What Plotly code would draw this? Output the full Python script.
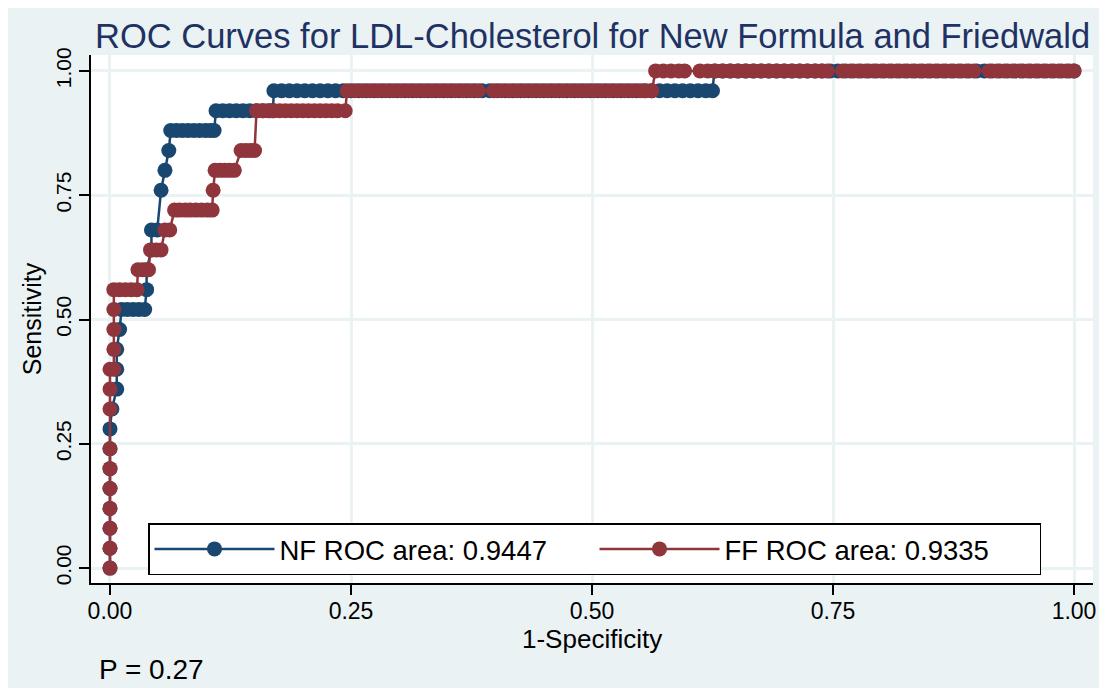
import plotly.graph_objects as go

# ---------------- data ----------------
# NF curve: sensitivity levels and the 1-specificity values observed at each level
nf_sens = [0.00, 0.04, 0.08, 0.12, 0.16, 0.20, 0.24, 0.28, 0.32, 0.36, 0.40, 0.44, 0.48,
           0.52, 0.56, 0.60, 0.64, 0.68, 0.76, 0.80, 0.84, 0.88, 0.92, 0.96, 1.00]
nf_fpr = [
    [0.000], [0.000], [0.000], [0.000], [0.000], [0.000], [0.000], [0.000],
    [0.002], [0.007], [0.007], [0.007], [0.010],
    [0.012, 0.018, 0.024, 0.030, 0.036],
    [0.038], [0.038], [0.043], [0.043, 0.049],
    [0.053], [0.057], [0.061],
    [0.063, 0.069, 0.075, 0.081, 0.087, 0.093, 0.099, 0.104, 0.108],
    [0.110, 0.117, 0.124, 0.131, 0.138, 0.145, 0.152, 0.159, 0.166, 0.169],
    [0.170, 0.178, 0.186, 0.194, 0.202, 0.210, 0.218, 0.226, 0.234, 0.242, 0.250, 0.258,
     0.266, 0.274, 0.282, 0.290, 0.298, 0.306, 0.314, 0.322, 0.330, 0.338, 0.346, 0.354,
     0.362, 0.370, 0.378, 0.386, 0.394, 0.402, 0.410, 0.418, 0.426, 0.434, 0.442, 0.450,
     0.458, 0.466, 0.474, 0.482, 0.490, 0.498, 0.506, 0.514, 0.522, 0.530, 0.538, 0.546,
     0.554, 0.562, 0.570, 0.578, 0.586, 0.594, 0.602, 0.610, 0.618, 0.625],
    [0.627, 0.635, 0.643, 0.651, 0.659, 0.667, 0.675, 0.683, 0.691, 0.699, 0.707, 0.715,
     0.723, 0.731, 0.739, 0.747, 0.755, 0.763, 0.771, 0.779, 0.787, 0.795, 0.803, 0.811,
     0.819, 0.827, 0.835, 0.843, 0.851, 0.859, 0.867, 0.875, 0.883, 0.891, 0.899, 0.907,
     0.915, 0.923, 0.931, 0.939, 0.947, 0.955, 0.963, 0.971, 0.979, 0.987, 0.995, 1.000],
]

# FF curve
ff_sens = [0.00, 0.04, 0.08, 0.12, 0.16, 0.20, 0.24, 0.32, 0.36, 0.40, 0.44, 0.48, 0.52,
           0.56, 0.60, 0.64, 0.68, 0.72, 0.76, 0.80, 0.84, 0.92, 0.96, 1.00]
ff_fpr = [
    [0.000], [0.000], [0.000], [0.000], [0.000], [0.000], [0.000], [0.000], [0.000],
    [0.000, 0.004], [0.004], [0.004], [0.004],
    [0.004, 0.010, 0.016, 0.022, 0.028],
    [0.029, 0.034, 0.040],
    [0.042, 0.048, 0.053],
    [0.057, 0.062],
    [0.067, 0.072, 0.078, 0.083, 0.089, 0.095, 0.101, 0.106],
    [0.107],
    [0.109, 0.114, 0.119, 0.124, 0.129],
    [0.136, 0.141, 0.146, 0.150],
    [0.152, 0.158, 0.164, 0.170, 0.176, 0.182, 0.188, 0.194, 0.200, 0.206, 0.212, 0.218,
     0.224, 0.230, 0.236, 0.244],
    [0.246, 0.254, 0.262, 0.270, 0.278, 0.286, 0.294, 0.302, 0.310, 0.318, 0.326, 0.334,
     0.342, 0.350, 0.358, 0.366, 0.374, 0.382, 0.398, 0.406, 0.414, 0.422, 0.430, 0.438,
     0.446, 0.454, 0.462, 0.470, 0.478, 0.486, 0.494, 0.502, 0.510, 0.518, 0.526, 0.534,
     0.542, 0.550, 0.556, 0.562],
    [0.566, 0.574, 0.582, 0.590, 0.596, 0.612, 0.620, 0.628, 0.636, 0.644, 0.652, 0.660,
     0.668, 0.676, 0.684, 0.692, 0.700, 0.708, 0.716, 0.724, 0.732, 0.738, 0.744, 0.760,
     0.768, 0.776, 0.784, 0.792, 0.800, 0.808, 0.816, 0.824, 0.832, 0.840, 0.848, 0.856,
     0.864, 0.872, 0.880, 0.888, 0.896, 0.912, 0.920, 0.928, 0.936, 0.944, 0.952, 0.960,
     0.968, 0.976, 0.984, 0.992, 1.000],
]

nf_label = "NF ROC area: 0.9447"
ff_label = "FF ROC area: 0.9335"
title_text = "ROC Curves for LDL-Cholesterol for New Formula and Friedwald"
x_title = "1-Specificity"
y_title = "Sensitivity"
note_text = "P = 0.27"
tick_vals = [0, 0.25, 0.5, 0.75, 1]
tick_text = ["0.00", "0.25", "0.50", "0.75", "1.00"]


def flatten(levels, runs):
    xs, ys = [], []
    for s, run in zip(levels, runs):
        for f in run:
            xs.append(f)
            ys.append(s)
    return xs, ys


nf_x, nf_y = flatten(nf_sens, nf_fpr)
ff_x, ff_y = flatten(ff_sens, ff_fpr)

NAVY = "#1a476f"
MAROON = "#90353b"
BG = "#eaf2f3"
FONT = "Liberation Sans, Arial, sans-serif"

# the page body adds an 8 px offset; target window coordinates are shifted by it
OFF = 8
PL, PR, PT, PB = 91 - OFF, 1093 - OFF, 55 - OFF, 583 - OFF   # plot area in figure px
W, H = 1107, 688
plot_w = PR - PL
plot_h = PB - PT


def py_paper(win_y):
    """window pixel row -> paper y coordinate"""
    return (583 - win_y) / plot_h


def px_paper(win_x):
    return (win_x - 91) / plot_w


fig = go.Figure()
fig.add_trace(go.Scatter(x=nf_x, y=nf_y, mode="lines+markers", name=nf_label,
                         line=dict(color=NAVY, width=2.5),
                         marker=dict(color=NAVY, size=15, symbol="circle")))
fig.add_trace(go.Scatter(x=ff_x, y=ff_y, mode="lines+markers", name=ff_label,
                         line=dict(color=MAROON, width=2.5),
                         marker=dict(color=MAROON, size=15, symbol="circle")))

axis_common = dict(
    tickvals=tick_vals, ticktext=tick_text,
    showline=True, linecolor="black", linewidth=1.5,
    ticks="outside", ticklen=10, tickwidth=1.5, tickcolor="black",
    showgrid=True, gridcolor=BG, gridwidth=3,
    zeroline=False, mirror=False,
)

fig.update_layout(
    width=W, height=H,
    paper_bgcolor=BG, plot_bgcolor="white",
    margin=dict(l=PL, r=W - PR, t=PT, b=H - PB, autoexpand=False),
    font=dict(family=FONT, color="black"),
    title=dict(text=title_text, font=dict(size=34.5, color="#1f3263", family=FONT),
               xref="container", yref="container", x=(95 - OFF) / W, xanchor="left",
               y=1 - (36 - OFF) / H, yanchor="middle"),
    xaxis=dict(range=[-0.0197, 1.0197],
               tickfont=dict(size=23, color="black", family=FONT),
               ticklabelstandoff=-3,
               **axis_common),
    yaxis=dict(range=[-0.030, 1.032], tickangle=-90,
               tickfont=dict(size=21, color="black", family=FONT),
               title=dict(text=y_title, font=dict(size=25), standoff=3),
               **axis_common),
    legend=dict(orientation="h", x=px_paper(148), y=py_paper(523),
                xanchor="left", yanchor="top",
                bgcolor="white", bordercolor="black", borderwidth=1.5,
                font=dict(size=27.5, family=FONT), itemwidth=120,
                entrywidth=310, entrywidthmode="pixels"),
    showlegend=True,
    annotations=[
        dict(text=x_title, xref="paper", yref="paper",
             x=px_paper(592), y=py_paper(639),
             xanchor="center", yanchor="middle", showarrow=False,
             font=dict(size=26, color="black", family=FONT)),
        dict(text=note_text, xref="paper", yref="paper",
             x=px_paper(97), y=py_paper(669),
             xanchor="left", yanchor="middle", showarrow=False,
             font=dict(size=28, color="black", family=FONT)),
    ],
)

fig.write_html("out.html")
